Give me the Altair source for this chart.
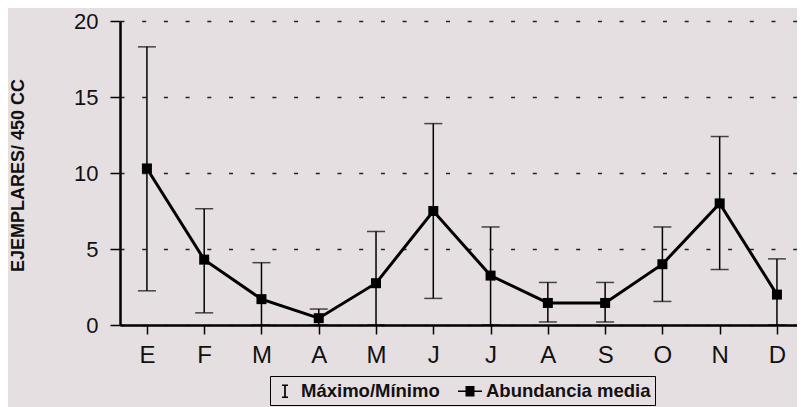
import altair as alt
import pandas as pd

months = ["E", "F", "M", "A", "M", "J", "J", "A", "S", "O", "N", "D"]
mean_vals = [10.3, 4.3, 1.7, 0.45, 2.75, 7.5, 3.25, 1.45, 1.45, 4.0, 8.0, 2.0]
max_vals = [18.3, 7.65, 4.1, 1.05, 6.15, 13.25, 6.45, 2.8, 2.8, 6.45, 12.4, 4.35]
min_vals = [2.25, 0.8, 0.0, 0.0, 0.0, 1.75, 0.0, 0.2, 0.2, 1.55, 3.65, 0.0]
y_ticks = [0, 5, 10, 15, 20]
legend_names = ["Máximo/Mínimo", "Abundancia media"]

df = pd.DataFrame({
    "i": list(range(len(months))),
    "mes": months,
    "media": mean_vals,
    "max": max_vals,
    "min": min_vals,
})
leg_df = pd.DataFrame({"serie": legend_names, "i": [0, 0], "v": [-50, -50]})

label_expr = "[" + ",".join("'%s'" % m for m in months) + "][datum.value]"

FONT = "Liberation Sans"
xscale = alt.Scale(domain=[-0.47, 11.35], nice=False, zero=False)
yscale = alt.Scale(domain=[0, 20], nice=False)

xenc = alt.X("i:Q", scale=xscale, title=None,
             axis=alt.Axis(values=list(range(len(months))), labelExpr=label_expr,
                           grid=False, tickSize=9, tickWidth=1.5, tickColor="black",
                           domainColor="black", domainWidth=2.5, labelPadding=9,
                           labelFontSize=24, labelFont=FONT, labelColor="#111"))
yenc = alt.Y("media:Q", scale=yscale,
             title="EJEMPLARES/ 450 CC",
             axis=alt.Axis(values=y_ticks, grid=True, gridColor="#222", gridWidth=1.5,
                           gridDash=[4, 17.7], tickSize=10, tickWidth=1.5, tickColor="black",
                           domainColor="black", domainWidth=2.5, labelPadding=12,
                           labelFontSize=22, labelFont=FONT, labelColor="#111",
                           titleFont=FONT, titleFontSize=18, titleFontWeight="bold",
                           titleColor="#111", titleAngle=-90, titleX=-93, titleY=154,
                           titleAlign="center", titleBaseline="bottom"))

base = alt.Chart(df)

rules = base.mark_rule(color="black", strokeWidth=1.5).encode(
    x=alt.X("i:Q", scale=xscale), y=alt.Y("min:Q", scale=yscale), y2="max:Q")
cap_hi = base.mark_tick(color="black", orient="horizontal", size=18, thickness=1.5).encode(
    x=alt.X("i:Q", scale=xscale), y=alt.Y("max:Q", scale=yscale))
cap_lo = base.mark_tick(color="black", orient="horizontal", size=18, thickness=1.5).encode(
    x=alt.X("i:Q", scale=xscale), y=alt.Y("min:Q", scale=yscale))
line = base.mark_line(color="black", strokeWidth=3).encode(x=xenc, y=yenc)
pts = base.mark_square(color="black", size=100, opacity=1).encode(
    x=alt.X("i:Q", scale=xscale), y=alt.Y("media:Q", scale=yscale))

# legend glyphs: an "I" bar, and a line with a solid square (square drawn as dense strokes)
sq = "".join("M-0.45,%.2fH0.45" % v for v in [-0.45, -0.3, -0.15, 0.0, 0.15, 0.3, 0.45])
shape_paths = [
    "M-0.3,-0.6H0.3M0,-0.6V0.6M-0.3,0.6H0.3",
    "M-1.2,0H1.2" + sq,
]
legend_layer = alt.Chart(leg_df).mark_point(
    clip=True, filled=False, color="black", strokeWidth=1.7, opacity=1, size=400
).encode(
    x=alt.X("i:Q", scale=xscale),
    y=alt.Y("v:Q", scale=yscale),
    shape=alt.Shape("serie:N", scale=alt.Scale(domain=legend_names, range=shape_paths),
                    legend=alt.Legend(title=None, orient="none", legendX=150, legendY=355,
                                      direction="horizontal", strokeColor="black",
                                      padding=4, symbolSize=400, symbolStrokeWidth=1.7,
                                      labelFont=FONT, labelFontSize=18.5, labelFontWeight="bold",
                                      labelColor="#111", labelOffset=5, columnPadding=14,
                                      labelLimit=400)),
)

chart = alt.layer(line, rules, cap_hi, cap_lo, pts, legend_layer).properties(
    width=677, height=304,
    autosize=alt.AutoSizeParams(type="none"),
    padding={"left": 112, "top": 13, "right": 0, "bottom": 82},
    background="#e6dfe1",
).configure_view(stroke=None)

chart.save("out.html", embed_options={"renderer": "svg", "actions": False})
